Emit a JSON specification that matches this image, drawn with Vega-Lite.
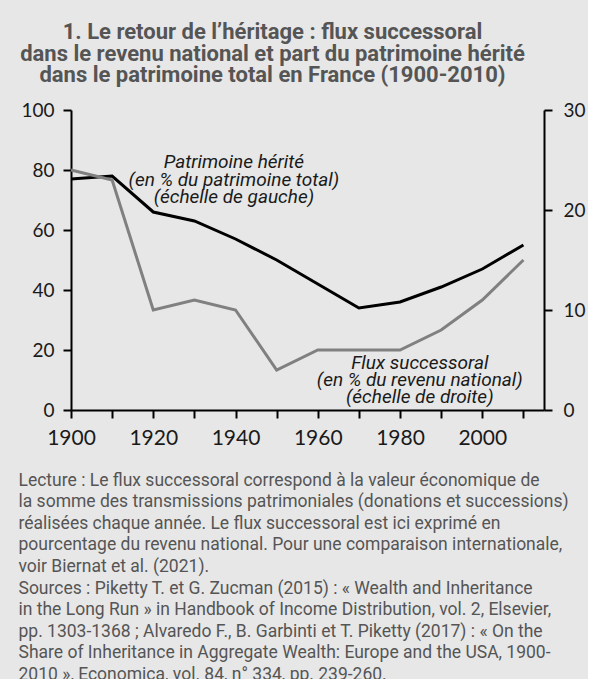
{
  "$schema": "https://vega.github.io/schema/vega-lite/v6.json",
  "background": "#e7e7e7",
  "padding": {"left": 18, "top": 21, "right": 2, "bottom": 0},
  "width": 473,
  "height": 300,
  "title": {
    "text": ["1. Le retour de l’héritage : flux successoral", "dans le revenu national et part du patrimoine hérité", "dans le patrimoine total en France (1900-2010)"],
    "font": "Roboto",
    "fontSize": 22,
    "fontWeight": "bold",
    "color": "#555555",
    "lineHeight": 21.5,
    "anchor": "middle",
    "dx": -35,
    "offset": 14
  },
  "config": {
    "view": {"stroke": null},
    "axis": {
      "grid": false,
      "domainColor": "#000000",
      "tickColor": "#000000",
      "domainWidth": 2,
      "tickWidth": 2,
      "tickSize": 8,
      "labelColor": "#1a1a1a",
      "labelFont": "Lato",
      "labelFontSize": 19,
      "labelPadding": 9
    }
  },
  "datasets": {
    "series": [
      {"year": 1900, "patrimoine": 77, "flux": 24},
      {"year": 1910, "patrimoine": 78, "flux": 23},
      {"year": 1920, "patrimoine": 66, "flux": 10},
      {"year": 1930, "patrimoine": 63, "flux": 11},
      {"year": 1940, "patrimoine": 57, "flux": 10},
      {"year": 1950, "patrimoine": 50, "flux": 4},
      {"year": 1960, "patrimoine": 42, "flux": 6},
      {"year": 1970, "patrimoine": 34, "flux": 6},
      {"year": 1980, "patrimoine": 36, "flux": 6},
      {"year": 1990, "patrimoine": 41, "flux": 8},
      {"year": 2000, "patrimoine": 47, "flux": 11},
      {"year": 2010, "patrimoine": 55, "flux": 15}
    ],
    "notes": [
      {"year": 1939.6, "value": 82.6, "label": "Patrimoine hérité"},
      {"year": 1939.6, "value": 76.8, "label": "(en % du patrimoine total)"},
      {"year": 1939.6, "value": 71.0, "label": "(échelle de gauche)"},
      {"year": 1984.8, "value": 15.8, "label": "Flux successoral"},
      {"year": 1984.8, "value": 10.0, "label": "(en % du revenu national)"},
      {"year": 1984.8, "value": 4.2, "label": "(échelle de droite)"}
    ]
  },
  "data": {"name": "series"},
  "encoding": {
    "x": {
      "field": "year",
      "type": "quantitative",
      "scale": {"domain": [1900, 2015], "nice": false, "zero": false},
      "axis": {
        "values": [1900, 1910, 1920, 1930, 1940, 1950, 1960, 1970, 1980, 1990, 2000, 2010],
        "labelExpr": "datum.value % 20 == 0 && datum.value <= 2000 ? datum.value : ''",
        "labelFontSize": 21,
        "labelFlush": false,
        "title": [
          "Lecture : Le flux successoral correspond à la valeur économique de",
          "la somme des transmissions patrimoniales (donations et successions)",
          "réalisées chaque année. Le flux successoral est ici exprimé en",
          "pourcentage du revenu national. Pour une comparaison internationale,",
          "voir Biernat et al. (2021).",
          "Sources : Piketty T. et G. Zucman (2015) : « Wealth and Inheritance",
          "in the Long Run » in Handbook of Income Distribution, vol. 2, Elsevier,",
          "pp. 1303-1368 ; Alvaredo F., B. Garbinti et T. Piketty (2017) : « On the",
          "Share of Inheritance in Aggregate Wealth: Europe and the USA, 1900-",
          "2010 », Economica, vol. 84, n° 334, pp. 239-260."
        ],
        "titleFont": "Roboto",
        "titleFontSize": 17.5,
        "titleFontWeight": "normal",
        "titleColor": "#555555",
        "titleAnchor": "start",
        "titleAlign": "left",
        "titleBaseline": "alphabetic",
        "titleLineHeight": 21.6,
        "titleX": -53,
        "titleY": 75
      }
    }
  },
  "layer": [
    {
      "layer": [
        {
          "mark": {"type": "line", "color": "#000000", "strokeWidth": 3},
          "encoding": {
            "y": {
              "field": "patrimoine",
              "type": "quantitative",
              "scale": {"domain": [0, 100], "nice": false},
              "axis": {"values": [0, 20, 40, 60, 80, 100], "title": null, "orient": "left"}
            }
          }
        },
        {
          "data": {"name": "notes"},
          "mark": {"type": "text", "font": "Roboto", "fontStyle": "italic", "fontSize": 19, "color": "#1a1a1a", "align": "center", "baseline": "middle"},
          "encoding": {
            "y": {"field": "value", "type": "quantitative"},
            "text": {"field": "label", "type": "nominal"}
          }
        }
      ]
    },
    {
      "mark": {"type": "line", "color": "#808080", "strokeWidth": 3},
      "encoding": {
        "y": {
          "field": "flux",
          "type": "quantitative",
          "scale": {"domain": [0, 30], "nice": false},
          "axis": {"values": [0, 10, 20, 30], "title": null, "orient": "right", "labelPadding": 11}
        }
      }
    }
  ],
  "resolve": {"scale": {"y": "independent"}}
}
